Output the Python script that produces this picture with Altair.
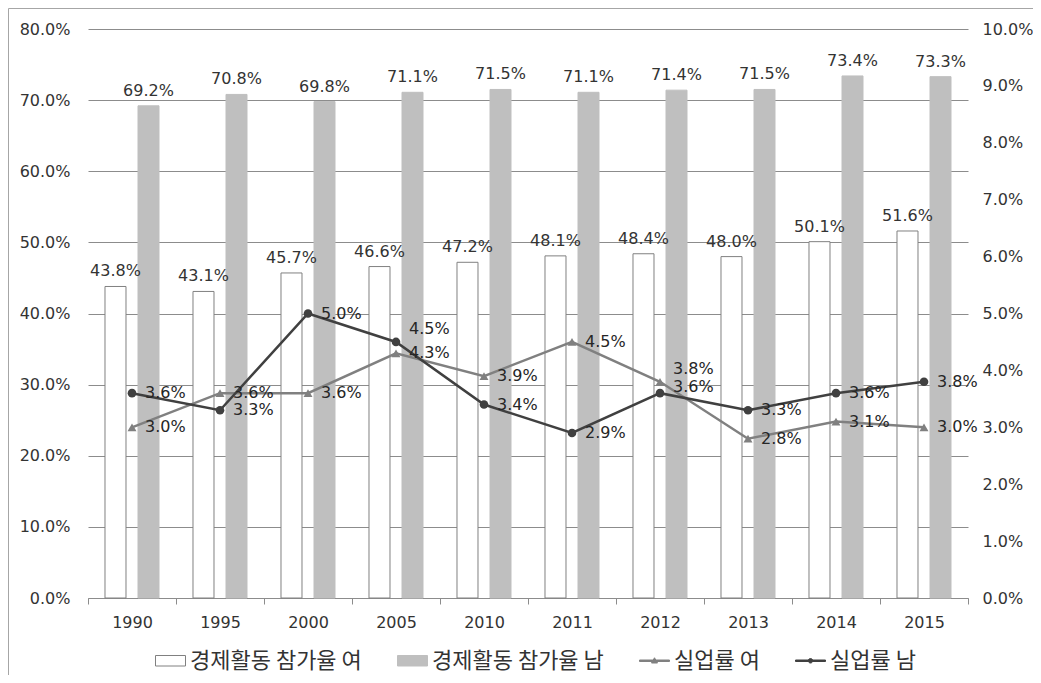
import altair as alt
import pandas as pd

years = ["1990", "1995", "2000", "2005", "2010", "2011", "2012", "2013", "2014", "2015"]
part_f = [43.8, 43.1, 45.7, 46.6, 47.2, 48.1, 48.4, 48.0, 50.1, 51.6]
part_m = [69.2, 70.8, 69.8, 71.1, 71.5, 71.1, 71.4, 71.5, 73.4, 73.3]
unemp_f = [3.0, 3.6, 3.6, 4.3, 3.9, 4.5, 3.8, 2.8, 3.1, 3.0]
unemp_m = [3.6, 3.3, 5.0, 4.5, 3.4, 2.9, 3.6, 3.3, 3.6, 3.8]
series = ["경제활동 참가율 여", "경제활동 참가율 남", "실업률 여", "실업률 남"]
fills = ["#ffffff", "#bfbfbf", "#808080", "#404040"]
strokes = ["#808080", "#bfbfbf", "#808080", "#404040"]
left_ticks = [0, 0.1, 0.2, 0.3, 0.4, 0.5, 0.6, 0.7, 0.8]
right_ticks = [0, 0.01, 0.02, 0.03, 0.04, 0.05, 0.06, 0.07, 0.08, 0.09, 0.1]
label_nudge = {("2005", "실업률 남"): -13, ("2012", "실업률 여"): -13, ("2012", "실업률 남"): -6}

NUM_FONT = "DejaVu Sans"
KR_FONT = "Noto Sans CJK KR"
TXT = "#333333"

bars = pd.DataFrame(
    [{"year": y, "series": series[0], "value": v / 100} for y, v in zip(years, part_f)]
    + [{"year": y, "series": series[1], "value": v / 100} for y, v in zip(years, part_m)]
)
lines = pd.DataFrame(
    [{"year": y, "series": series[2], "value": v / 100} for y, v in zip(years, unemp_f)]
    + [{"year": y, "series": series[3], "value": v / 100} for y, v in zip(years, unemp_m)]
)
lines["ldy"] = [label_nudge.get((y, s), 0) for y, s in zip(lines["year"], lines["series"])]
legend_df = pd.DataFrame({"series": series})

x_enc = alt.X(
    "year:N",
    sort=years,
    scale=alt.Scale(paddingInner=0, paddingOuter=0),
    axis=alt.Axis(
        title=None, labelAngle=0, tickBand="extent", tickSize=6, tickColor="#8c8c8c",
        domainColor="#8c8c8c", labelPadding=10, labelFontSize=16, labelFont=NUM_FONT,
        labelColor=TXT, grid=False,
    ),
)
xoff = alt.XOffset("series:N", scale=alt.Scale(domain=series[:2], paddingInner=0.364, paddingOuter=0.515))

y_left = alt.Y(
    "value:Q", scale=alt.Scale(domain=[0, 0.8], nice=False),
    axis=alt.Axis(
        title=None, values=left_ticks, format=".1%", grid=True, gridColor="#8c8c8c",
        domain=False, ticks=False, labelPadding=18, labelFontSize=16, labelFont=NUM_FONT,
        labelColor=TXT, orient="left",
    ),
)
y_right = alt.Y(
    "value:Q", scale=alt.Scale(domain=[0, 0.1], nice=False),
    axis=alt.Axis(
        title=None, values=right_ticks, format=".1%", grid=False, orient="right",
        domain=False, ticks=False, labelPadding=14, labelFontSize=16, labelFont=NUM_FONT,
        labelColor=TXT,
    ),
)

bar_base = alt.Chart(bars)
bar_layers = [
    bar_base.transform_filter(alt.datum.series == series[i])
    .mark_bar(fill=fills[i], stroke=strokes[i], strokeWidth=1)
    .encode(x=x_enc, xOffset=xoff, y=y_left)
    for i in range(2)
]
bar_text = bar_base.mark_text(
    baseline="alphabetic", dy=-10, fontSize=16, font=NUM_FONT, color=TXT
).encode(x=x_enc, xOffset=xoff, y=y_left, text=alt.Text("value:Q", format=".1%"))
left_group = alt.layer(*bar_layers, bar_text)

line_base = alt.Chart(lines)
line_layers = [
    line_base.transform_filter(alt.datum.series == series[i])
    .mark_line(stroke=strokes[i], strokeWidth=2.5)
    .encode(x=x_enc, y=y_right)
    for i in (2, 3)
]
tri = line_base.transform_filter(alt.datum.series == series[2]).mark_point(
    shape="triangle-up", filled=True, size=80, opacity=1, fill=fills[2], strokeWidth=0
).encode(x=x_enc, y=y_right)
circ = line_base.transform_filter(alt.datum.series == series[3]).mark_point(
    shape="circle", filled=True, size=75, opacity=1, fill=fills[3], strokeWidth=0
).encode(x=x_enc, y=y_right)
text_layers = [
    line_base.transform_filter(alt.datum.ldy == d).mark_text(
        align="left", baseline="middle", dx=13, dy=d, fontSize=16, font=NUM_FONT, color="#262626"
    ).encode(x=x_enc, y=y_right, text=alt.Text("value:Q", format=".1%"))
    for d in sorted(set(lines["ldy"]))
]
right_group = alt.layer(*line_layers, tri, circ, *text_layers)

leg = alt.Legend(
    title=None, orient="none", legendX=67, legendY=616, direction="horizontal", columns=4,
    symbolSize=900, labelFont=KR_FONT, labelFontSize=22, labelColor=TXT, labelOffset=4,
    columnPadding=33, symbolOpacity=1, labelLimit=0, symbolStrokeWidth=1,
)
legend_layer = alt.Chart(legend_df).mark_point(filled=True, size=0).encode(
    fill=alt.Fill("series:N", scale=alt.Scale(domain=series, range=fills), legend=leg),
    stroke=alt.Stroke("series:N", scale=alt.Scale(domain=series, range=strokes), legend=leg),
    shape=alt.Shape(
        "series:N",
        scale=alt.Scale(
            domain=series,
            range=[
                "M-1,-0.35H1V0.35H-1Z",
                "M-1,-0.35H1V0.35H-1Z",
                "M-1,-0.05H1V0.05H-1ZM0,-0.2L0.2,0.15H-0.2Z",
                "M-1,-0.05H1V0.05H-1ZM-0.15,0A0.15,0.15,0,1,1,0.15,0A0.15,0.15,0,1,1,-0.15,0Z",
            ],
        ),
        legend=leg,
    ),
)

border = alt.Chart(pd.DataFrame({"a": [0]})).mark_rect(
    fill=None, stroke="#a6a6a6", strokeWidth=1
).encode(x=alt.value(-79.5), x2=alt.value(1000), y=alt.value(-20.5), y2=alt.value(700))

chart = alt.layer(left_group, right_group, legend_layer, border).resolve_scale(
    y="independent"
).properties(
    width=880, height=569,
    padding={"left": 80, "top": 21, "right": 65, "bottom": 77},
    autosize=alt.AutoSizeParams(type="none"),
).configure(font=NUM_FONT, view=alt.ViewConfig(stroke=None))

chart.save("out.html", embed_options={"renderer": "svg", "actions": False})
